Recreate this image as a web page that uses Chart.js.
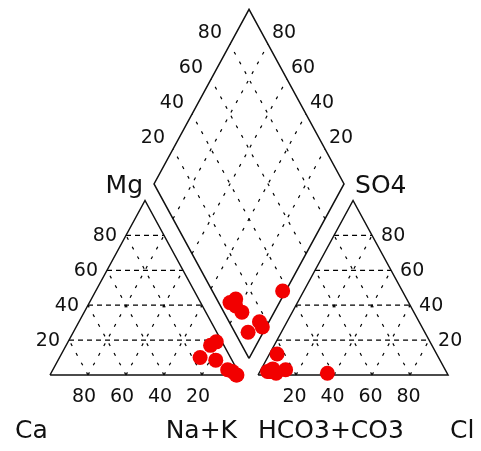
<!DOCTYPE html>
<html>
<head>
<meta charset="utf-8">
<script src="https://cdn.jsdelivr.net/npm/chart.js@4.4.1/dist/chart.umd.min.js"></script>
<style>
  html, body { margin: 0; padding: 0; background: #fff; }
  #wrap { width: 481px; height: 451px; }
</style>
</head>
<body>
<div id="wrap"><canvas id="piper" width="481" height="451"></canvas></div>
<script>
// Major ions, % of meq/L for each sample
const caPct   = [1.6, 3, 5, 2, 16, 7, 8.5, 3];
const mgPct   = [0, 2, 3, 0, 10, 17, 8.5, 19];
const naKPct  = [98.4, 95, 92, 98, 74, 76, 83, 78];
const hco3Pct = [63, 84, 93, 84, 94, 90, 90.5, 92];
const so4Pct  = [1, 12, 2, 3, 2, 1, 3.5, 2];
const clPct   = [36, 4, 5, 13, 4, 9, 6, 6];

// Percent values marked on every axis
const tickValues = [20, 40, 60, 80];
const cornerLabels = ['Ca', 'Na+K', 'HCO3+CO3', 'Cl'];
const apexLabels = ['Mg', 'SO4'];

// ---- Piper geometry (in percent units) ----
const GAP = 9.5;
const H = Math.sqrt(3) / 2;
const S3 = Math.sqrt(3);
const P = (x, y) => ({ x, y });
const lerp = (a, b, t) => P(a.x + (b.x - a.x) * t, a.y + (b.y - a.y) * t);

const L0 = P(0, 0), L1 = P(100, 0), L2 = P(50, 100 * H);
const R0 = P(100 + GAP, 0), R1 = P(200 + GAP, 0), R2 = P(150 + GAP, 100 * H);
const DB = P(100 + GAP / 2, GAP * H);
const DL = P(50 + GAP / 2, 100 * H + GAP * H);
const DT = P(100 + GAP / 2, 200 * H + GAP * H);
const DR = P(150 + GAP / 2, 100 * H + GAP * H);

const cationXY = (ca, mg, na) => P(na + mg / 2, mg * H);
const anionXY = (hco3, so4, cl) => P(100 + GAP + cl + so4 / 2, so4 * H);
function diamondXY(c, a) {
  const x = (c.x + a.x) / 2 + (a.y - c.y) / (2 * S3);
  return P(x, c.y + S3 * (x - c.x));
}

const cationPts = caPct.map((ca, i) => cationXY(ca, mgPct[i], naKPct[i]));
const anionPts = hco3Pct.map((h, i) => anionXY(h, so4Pct[i], clPct[i]));
const diamondPts = cationPts.map((c, i) => diamondXY(c, anionPts[i]));

// ---- datasets ----
const datasets = [];
datasets.push({
  data: [...cationPts, ...anionPts, ...diamondPts],
  showLine: false,
  pointRadius: 7.5,
  pointHoverRadius: 7.5,
  pointBorderWidth: 0,
  backgroundColor: '#f20000',
  borderColor: '#f20000',
  order: 0
});

function outline(pts) {
  datasets.push({
    data: pts, showLine: true, pointRadius: 0, borderColor: '#111',
    borderWidth: 1.5, fill: false, tension: 0, order: 1
  });
}
outline([L0, L1, L2, L0]);
outline([R0, R1, R2, R0]);
outline([DB, DR, DT, DL, DB]);

function gridLine(a, b, dash) {
  datasets.push({
    data: [a, b], showLine: true, pointRadius: 0, borderColor: '#000',
    borderWidth: 1.2, borderDash: dash, fill: false, tension: 0, order: 2
  });
}
const FLAT = [5, 4], SLANT = [3, 8];
function triangleGrid(A, B, C) {
  tickValues.forEach(v => {
    const t = v / 100;
    gridLine(lerp(A, C, t), lerp(B, C, t), FLAT);
    gridLine(lerp(A, B, t), lerp(B, C, 1 - t), SLANT);
    gridLine(lerp(A, B, t), lerp(A, C, t), SLANT);
  });
}
triangleGrid(L0, L1, L2);
triangleGrid(R0, R1, R2);
tickValues.forEach(v => {
  const t = v / 100;
  gridLine(lerp(DB, DL, t), lerp(DR, DT, t), SLANT);
  gridLine(lerp(DB, DR, t), lerp(DL, DT, t), SLANT);
});

// ---- text labels placed through the chart scales ----
const labelPlugin = {
  id: 'piperLabels',
  afterDraw(chart) {
    const { ctx, scales: { x, y } } = chart;
    const px = p => [x.getPixelForValue(p.x), y.getPixelForValue(p.y)];
    const text = (s, X, Y, align, size) => {
      ctx.font = size + 'px "DejaVu Sans"';
      ctx.textAlign = align;
      ctx.textBaseline = 'middle';
      ctx.fillStyle = '#111';
      ctx.fillText(s, X, Y);
    };
    ctx.save();
    tickValues.forEach(v => {
      const t = v / 100;
      let a, b;
      // Mg axis (left triangle, left edge)
      [a, b] = px(lerp(L0, L2, t)); text(String(v), a - 9, b + 1, 'right', 19);
      // Ca axis (left triangle base, Ca = 100 at the left corner)
      [a, b] = px(lerp(L1, L0, t)); text(String(v), a - 4, b + 22, 'center', 19);
      // SO4 axis (right triangle, right edge)
      [a, b] = px(lerp(R1, R2, t)); text(String(v), a + 9, b + 1, 'left', 19);
      // Cl axis (right triangle base)
      [a, b] = px(lerp(R0, R1, t)); text(String(v), a - 1.5, b + 22, 'center', 19);
      // diamond, upper left edge
      [a, b] = px(lerp(DL, DT, t)); text(String(v), a - 8, b - 11, 'right', 19);
      // diamond, upper right edge
      [a, b] = px(lerp(DR, DT, t)); text(String(v), a + 4, b - 11, 'left', 19);
    });
    let a, b;
    [a, b] = px(DL); text(apexLabels[0], a - 11, b + 2.5, 'right', 25);
    [a, b] = px(DR); text(apexLabels[1], a + 11, b + 2.5, 'left', 25);
    [a, b] = px(L0); text(cornerLabels[0], a - 35, b + 57, 'left', 25);
    [a, b] = px(L1); text(cornerLabels[1], a - 3, b + 57, 'right', 25);
    [a, b] = px(R0); text(cornerLabels[2], a, b + 57, 'left', 25);
    [a, b] = px(R1); text(cornerLabels[3], a + 2, b + 57, 'left', 25);
    ctx.restore();
  }
};

new Chart(document.getElementById('piper'), {
  type: 'scatter',
  data: { datasets },
  options: {
    responsive: false,
    animation: false,
    layout: { padding: 0, autoPadding: false },
    clip: false,
    plugins: { legend: { display: false }, tooltip: { enabled: false } },
    scales: {
      x: { type: 'linear', display: false, min: -26.316, max: 226.842 },
      y: { type: 'linear', display: false, min: -37.72, max: 186.1 }
    }
  },
  plugins: [labelPlugin]
});
</script>
</body>
</html>
